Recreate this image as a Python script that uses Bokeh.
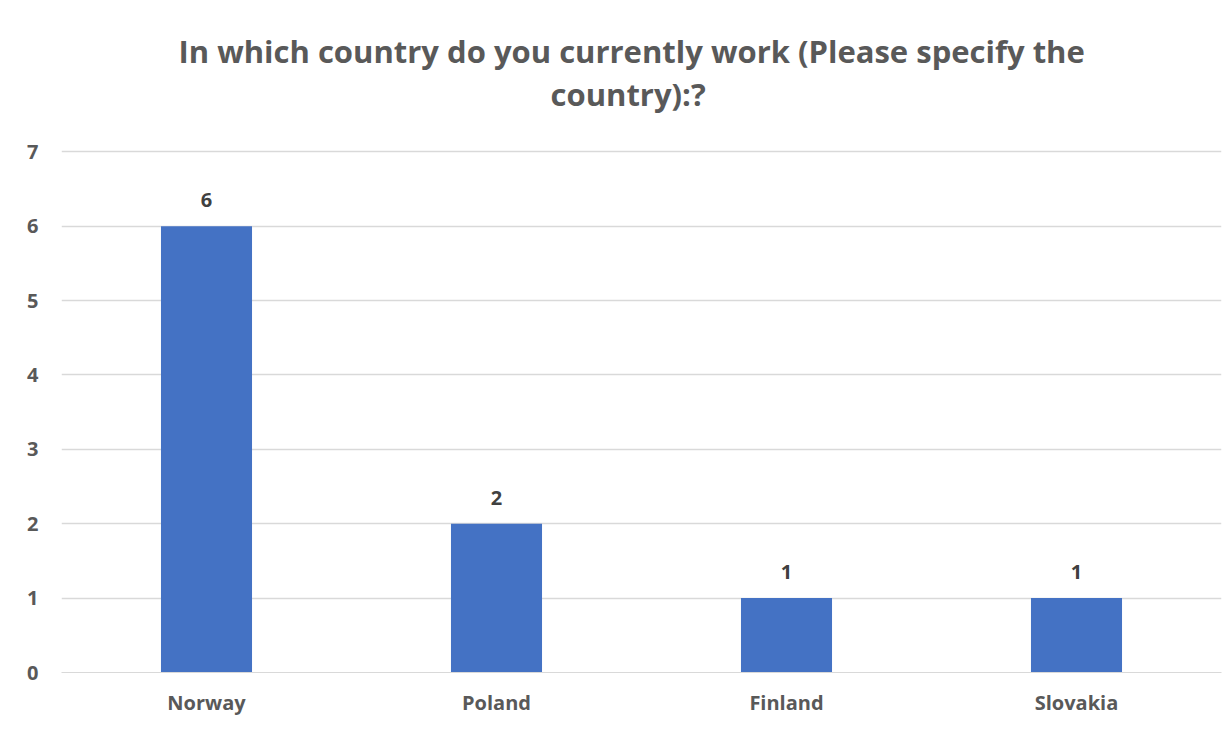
from bokeh.plotting import figure
from bokeh.models import ColumnDataSource, LabelSet, FixedTicker, Range1d, Title
from bokeh.core.properties import value
from bokeh.embed import file_html
from bokeh.resources import INLINE

countries = ["Norway", "Poland", "Finland", "Slovakia"]
counts = [6, 2, 1, 1]
y_ticks = [0, 1, 2, 3, 4, 5, 6, 7]
title_lines = ["In which country do you currently work (Please specify the", "country):?"]

FONT = "Open Sans"
src = ColumnDataSource(dict(country=countries, count=counts, label=[str(c) for c in counts]))

p = figure(x_range=countries, y_range=Range1d(0, 7.03), width=1229, height=729,
           output_backend="svg", toolbar_location=None, title=None,
           min_border_left=61, min_border_right=8, min_border_top=149, min_border_bottom=57)

p.vbar(x="country", top="count", width=0.314, source=src, color="#4472C4", line_color=None)

labels = LabelSet(x="country", y="count", text="label", source=src, y_offset=19,
                  text_align="center", text_baseline="bottom", text_font=value(FONT),
                  text_font_size="20px", text_font_style="bold", text_color="#404040")
p.add_layout(labels)

# second line first (closest to the frame), then the first line above it
for line, so, off in zip(reversed(title_lines), [70, -72], [489, 117]):
    t = Title(text=line, align="left", offset=off, text_font=FONT,
              text_font_size="31px", text_font_style="bold", text_color="#595959",
              standoff=so)
    p.add_layout(t, "above")

p.outline_line_color = None
p.xgrid.grid_line_color = None
p.ygrid.grid_line_color = "#d9d9d9"
p.ygrid.grid_line_width = 1.3

p.yaxis.ticker = FixedTicker(ticks=y_ticks)
for ax in (p.xaxis[0], p.yaxis[0]):
    ax.major_tick_line_color = None
    ax.minor_tick_line_color = None
    ax.major_tick_out = 0
    ax.major_label_text_font = FONT
    ax.major_label_text_font_size = "20px"
    ax.major_label_text_font_style = "bold"
    ax.major_label_text_color = "#595959"
ax = p.yaxis[0]
ax.axis_line_color = None
ax.major_label_standoff = 23
p.xaxis[0].axis_line_color = "#d9d9d9"
p.xaxis[0].major_label_standoff = 16

open("out.html", "w").write(file_html(p, INLINE))
